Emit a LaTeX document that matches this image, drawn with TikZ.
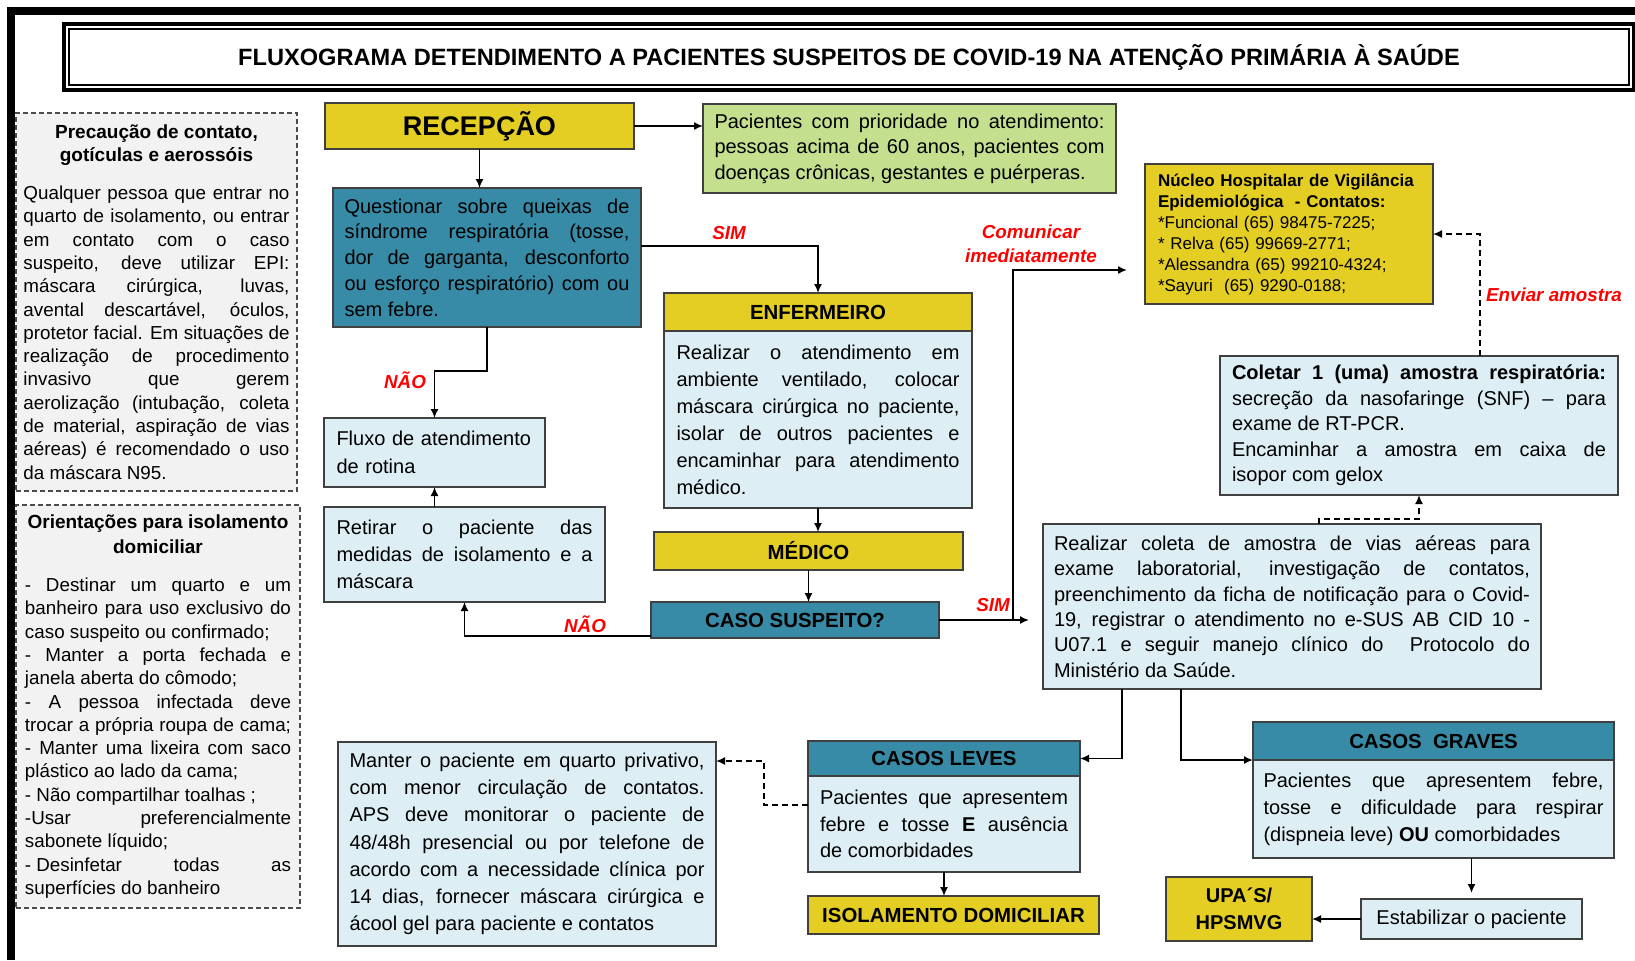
\documentclass[tikz,border=0pt]{standalone}
\usepackage{fontspec}
\setmainfont{Liberation Sans}
\usetikzlibrary{arrows.meta, positioning}

\definecolor{boxyellow}{RGB}{228,206,35}
\definecolor{boxteal}{RGB}{56,139,166}
\definecolor{boxblue}{RGB}{221,238,245}
\definecolor{boxgreen}{RGB}{196,224,143}
\definecolor{boxgray}{RGB}{242,242,242}

\setlength{\parindent}{0pt}
\tolerance=10000
\hyphenpenalty=10000
\hbadness=10000

\begin{document}
\begin{tikzpicture}[
    x=0.5pt, y=-0.5pt,
    box/.style={draw=black!75, line width=0.7pt, anchor=north west, inner sep=0pt, outer sep=0pt},
    block/.style={box, fill=boxblue, align=justify, font=\fontsize{10}{12.8}\selectfont},
    greenbox/.style={block, fill=boxgreen},
    headbox/.style={box, fill=boxyellow, align=center, font=\bfseries\fontsize{10.2}{12}\selectfont},
    tealbox/.style={box, fill=boxteal, align=center, font=\bfseries\fontsize{10.2}{12}\selectfont},
    notebox/.style={box, draw=black!70, dash pattern=on 2.5pt off 1.5pt, fill=boxgray, align=justify, text width=133pt, font=\fontsize{9.4}{11.65}\selectfont},
    arrow/.style={-{Latex[length=4.5pt,width=4pt]}, line width=0.8pt},
    dasharrow/.style={arrow, dash pattern=on 3pt off 2pt},
    redlabel/.style={text=red, inner sep=0pt, font=\bfseries\itshape\fontsize{9.4}{12}\selectfont}
]
    \useasboundingbox (0,0) rectangle (1635,960);

    % page frame and title
    \draw[line width=4pt] (11,960) -- (11,11) -- (1635,11);
    \node[box, draw=black, fill=white, minimum width=780pt, minimum height=28pt, font=\bfseries\fontsize{11.8}{14}\selectfont] (title) at (69,29)
        {FLUXOGRAMA DETENDIMENTO A PACIENTES SUSPEITOS DE COVID-19 NA ATENÇÃO PRIMÁRIA À SAÚDE};
    \draw[line width=2.2pt] ([shift={(-2.6pt,2.6pt)}]title.north west) rectangle ([shift={(2.6pt,-2.6pt)}]title.south east);

    % notes on the left
    \node[notebox, minimum width=140.5pt, minimum height=189pt] (precaucao) at (16,113) {%
        {\centering\bfseries\fontsize{9.5}{11.5}\selectfont Precaução de contato,\par gotículas e aerossóis\par}
        \vspace{7.4pt}
        Qualquer pessoa que entrar no\linebreak quarto de isolamento, ou entrar\linebreak em contato com o caso\linebreak
        suspeito, deve utilizar EPI:\linebreak máscara cirúrgica, luvas,\linebreak avental descartável, óculos,\linebreak
        protetor facial. Em situações de\linebreak realização de procedimento\linebreak invasivo que gerem\linebreak
        aerolização (intubação, coleta\linebreak de material, aspiração de vias\linebreak aéreas) é recomendado o uso\linebreak
        da máscara N95.};
    \node[notebox, minimum width=142pt, minimum height=201.5pt] (orientacoes) at (16,505) {%
        {\centering\bfseries\fontsize{9.5}{12.5}\selectfont Orientações para isolamento\par domiciliar\par}
        \vspace{7.4pt}
        - Destinar um quarto e um\linebreak banheiro para uso exclusivo do\linebreak caso suspeito ou confirmado;\par
        - Manter a porta fechada e\linebreak janela aberta do cômodo;\par
        - A pessoa infectada deve\linebreak trocar a própria roupa de cama;\linebreak
        - Manter uma lixeira com saco\linebreak plástico ao lado da cama;\par
        - Não compartilhar toalhas ;\par
        -Usar preferencialmente\linebreak sabonete líquido;\par
        -\kern0.27em Desinfetar todas as\linebreak superfícies do banheiro};

    % reception and triage
    \node[headbox, font=\bfseries\fontsize{13.5}{16}\selectfont, minimum width=154.5pt, minimum height=23pt] (recepcao) at (325,103) {RECEPÇÃO};
    \node[greenbox, text width=195pt, minimum width=206.5pt, minimum height=44.5pt] (prioridade) at (703,104)
        {Pacientes com prioridade no atendimento:\linebreak pessoas acima de 60 anos, pacientes com\linebreak doenças crônicas, gestantes e puérperas.};
    \node[block, fill=boxteal, text width=142.5pt, minimum width=154pt, minimum height=69.5pt, font=\fontsize{10}{12.9}\selectfont] (questionar) at (333,188)
        {Questionar sobre queixas de\linebreak síndrome respiratória (tosse,\linebreak dor de garganta, desconforto\linebreak ou esforço respiratório) com ou\linebreak sem febre.};
    \node[block, align=left, text width=98pt, minimum width=110.5pt, minimum height=34.5pt, font=\fontsize{10}{14}\selectfont] (fluxo) at (324,418)
        {Fluxo de atendimento\\de rotina};
    \node[block, text width=128pt, minimum width=140.5pt, minimum height=47.5pt, font=\fontsize{10}{13.5}\selectfont] (retirar) at (324,507)
        {Retirar o paciente das\linebreak medidas de isolamento e a\linebreak máscara};

    % nurse and doctor
    \node[headbox, minimum width=154pt, minimum height=19pt] (enfhead) at (664,293) {ENFERMEIRO};
    \node[block, below=0pt of enfhead, text width=141.5pt, minimum width=154pt, minimum height=88.5pt, font=\fontsize{10}{13.5}\selectfont] (enfbody)
        {Realizar o atendimento em\linebreak ambiente ventilado, colocar\linebreak máscara cirúrgica no paciente,\linebreak isolar de outros pacientes e\linebreak encaminhar para atendimento\linebreak médico.};
    \node[headbox, minimum width=154.5pt, minimum height=19pt] (medico) at (654,532) {MÉDICO};
    \node[tealbox, minimum width=144pt, minimum height=18pt] (caso) at (651,602) {CASO SUSPEITO?};

    % notification and sample
    \node[headbox, align=left, font=\fontsize{8.5}{10.5}\selectfont, text width=131pt, minimum width=144pt, minimum height=70pt] (nucleo) at (1145,164)
        {\textbf{Núcleo Hospitalar de Vigilância\\ Epidemiológica\ \ - Contatos:}\\ {*}Funcional (65) 98475-7225;\\ {*} Relva (65) 99669-2771;\\ {*}Alessandra (65) 99210-4324;\\ {*}Sayuri\ \ (65) 9290-0188;};
    \node[block, text width=187pt, minimum width=199pt, minimum height=69.5pt, font=\fontsize{10}{12.7}\selectfont] (coletar) at (1220,356)
        {\textbf{Coletar 1 (uma) amostra respiratória:}\linebreak secreção da nasofaringe (SNF) – para\linebreak exame de RT-PCR.\par Encaminhar a amostra em caixa de\linebreak isopor com gelox};
    \node[block, text width=238pt, minimum width=249pt, minimum height=82.5pt, font=\fontsize{10}{12.65}\selectfont] (realizar) at (1043,524)
        {Realizar coleta de amostra de vias aéreas para\linebreak exame laboratorial, investigação de contatos,\linebreak preenchimento da ficha de notificação para o Covid-\linebreak 19, registrar o atendimento no e-SUS AB CID 10 -\linebreak U07.1 e seguir manejo clínico do\ \ Protocolo do\linebreak Ministério da Saúde.};

    % mild cases
    \node[tealbox, minimum width=136pt, minimum height=17.5pt] (leveshead) at (808,741) {CASOS LEVES};
    \node[block, below=0pt of leveshead, text width=124pt, minimum width=136pt, minimum height=48pt, font=\fontsize{10}{13.2}\selectfont] (levesbody)
        {Pacientes que apresentem\linebreak febre e tosse \textbf{E} ausência\linebreak de comorbidades};
    \node[block, text width=177.5pt, minimum width=189pt, minimum height=102pt, font=\fontsize{10}{13.6}\selectfont] (manter) at (338,742)
        {Manter o paciente em quarto privativo,\linebreak com menor circulação de contatos.\linebreak APS deve monitorar o paciente de\linebreak 48/48h presencial ou por telefone de\linebreak acordo com a necessidade clínica por\linebreak 14 dias, fornecer máscara cirúrgica e\linebreak ácool gel para paciente e contatos};
    \node[headbox, minimum width=145.5pt, minimum height=19pt] (isolamento) at (808,896) {ISOLAMENTO DOMICILIAR};

    % severe cases
    \node[tealbox, minimum width=180.5pt, minimum height=19pt] (graveshead) at (1253,722) {CASOS\ \ GRAVES};
    \node[block, below=0pt of graveshead, text width=170pt, minimum width=180.5pt, minimum height=49pt, font=\fontsize{10}{13.5}\selectfont] (gravesbody)
        {Pacientes que apresentem febre,\linebreak tosse e dificuldade para respirar\linebreak (dispneia leve) \textbf{OU} comorbidades};
    \node[block, align=center, minimum width=110.5pt, minimum height=20pt] (estabilizar) at (1361,899) {Estabilizar o paciente};
    \node[headbox, font=\bfseries\fontsize{10}{13.5}\selectfont, minimum width=73pt, minimum height=32pt] (upa) at (1166,877) {UPA´S/\\HPSMVG};

    % connectors
    \coordinate (branch) at (1013,619);
    \draw[arrow] (recepcao.south) -- (recepcao.south |- questionar.north);
    \draw[arrow] (recepcao.east) -- (recepcao.east -| prioridade.west);
    \draw[arrow] ([yshift=5.75pt]questionar.east) -| (enfhead.north);
    \draw[arrow] (questionar.south) -- ++(0,44) -| (fluxo.north);
    \draw[arrow] (fluxo.south |- retirar.north) -- (fluxo.south);
    \draw[arrow] (enfbody.south) -- (enfbody.south |- medico.north);
    \draw[arrow] (medico.south) -- (medico.south |- caso.north);
    \draw[arrow] ([yshift=1pt]caso.south west) -| (retirar.south);
    \draw[arrow, shorten >=7pt] (caso.east) -- (caso.east -| realizar.west);
    \draw[arrow, shorten >=9pt] (branch) |- ([yshift=-18pt]nucleo.west);
    \draw[dasharrow] ([xshift=30.5pt]coletar.north) |- (nucleo.east);
    \draw[dasharrow] ([xshift=13.5pt]realizar.north) -- ++(0,-5) -| (coletar.south);
    \draw[arrow] ([xshift=-85pt]realizar.south) |- (leveshead.east);
    \draw[arrow] ([xshift=-55.5pt]realizar.south) |- (graveshead.south west);
    \draw[dasharrow] ([yshift=9.5pt]levesbody.west) -- ++(-44,0) |- ([yshift=41.5pt]manter.east);
    \draw[arrow] (levesbody.south) -- (levesbody.south |- isolamento.north);
    \draw[arrow, shorten >=3pt] (estabilizar.north |- gravesbody.south) -- (estabilizar.north);
    \draw[arrow] (estabilizar.west) -- (estabilizar.west -| upa.east);

    % labels
    \node[redlabel] (sim1) at (729,233) {SIM};
    \node[redlabel] (nao1) at (405,380) {NÃO};
    \node[redlabel] (nao2) at (585,624) {NÃO};
    \node[redlabel] (sim2) at (993,605) {SIM};
    \node[redlabel, align=center] (comunicar) at (1031,244) {Comunicar\\imediatamente};
    \node[redlabel] (enviar) at (1554,295) {Enviar amostra};
\end{tikzpicture}
\end{document}
